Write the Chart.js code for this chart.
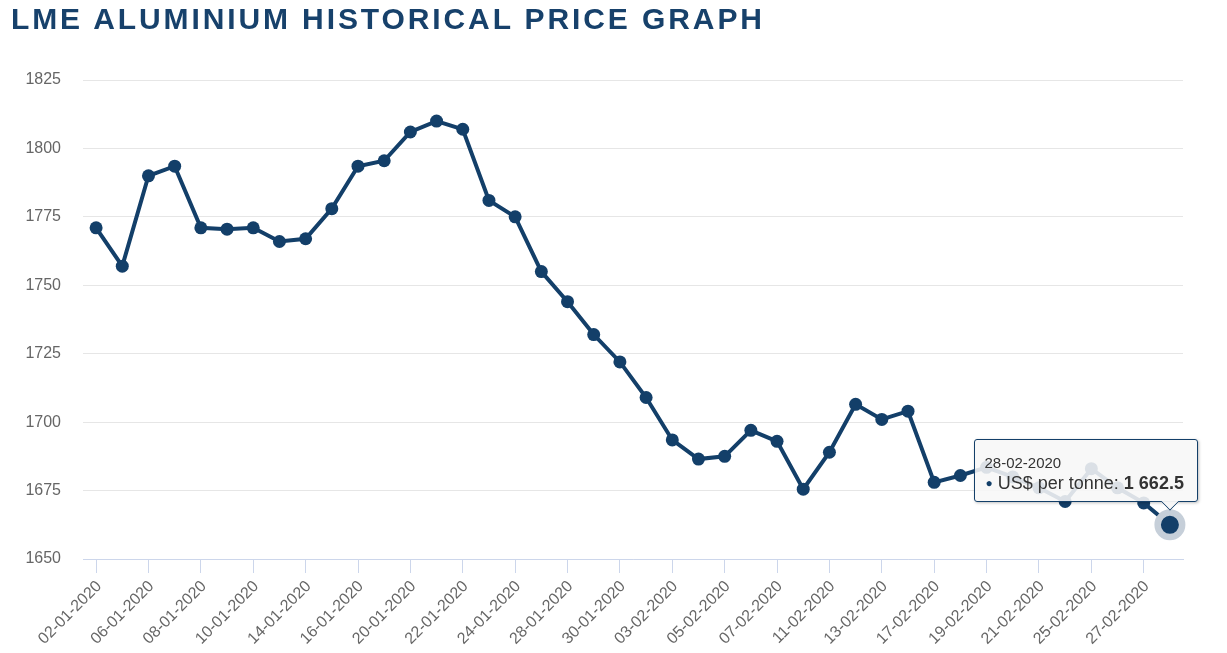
<!DOCTYPE html>
<html>
<head>
<meta charset="utf-8">
<title>LME Aluminium Historical Price Graph</title>
<script src="https://cdn.jsdelivr.net/npm/chart.js@4.4.1/dist/chart.umd.min.js"></script>
<style>
  body { margin: 0; background: #fff; font-family: "Liberation Sans", Arial, sans-serif; }
  #wrap { position: relative; width: 1227px; height: 653px; }
  .title {
    position: absolute; left: 11px; top: 4px; margin: 0;
    font-size: 30px; line-height: 30px; font-weight: bold;
    letter-spacing: 2.9px; color: #17416b; white-space: nowrap;
  }
  #tip {
    display: none; position: absolute; box-sizing: border-box;
    background: rgba(247, 247, 247, 0.88); border: 1px solid #133f69; border-radius: 3px;
    box-shadow: 1px 1px 3px rgba(0, 0, 0, 0.25);
    padding: 13px 13px 6px 9px; color: #333; white-space: nowrap; pointer-events: none;
  }
  #tip::after {
    content: ""; position: absolute; box-sizing: border-box; width: 14px; height: 14px;
    right: 20px; bottom: -7.5px; transform: rotate(45deg);
    background: rgba(247, 247, 247, 0.95);
    border-right: 1px solid #133f69; border-bottom: 1px solid #133f69;
    clip-path: polygon(100% 0, 100% 100%, 0 100%);
  }
  .tip-date { font-size: 15px; line-height: 19px; }
  .tip-body { font-size: 18px; line-height: 23px; }
  .tip-dot { color: #133f69; font-size: 12px; vertical-align: 2px; margin-left: 1px; }
</style>
</head>
<body>
<div id="wrap">
  <h1 class="title">LME ALUMINIUM HISTORICAL PRICE GRAPH</h1>
  <canvas id="priceChart"></canvas>
  <div id="tip">
    <div class="tip-date"></div>
    <div class="tip-body"><span class="tip-dot">●</span> <span class="tip-name"></span>: <b class="tip-val"></b></div>
  </div>
</div>
<script>
// LME trading days, Jan - Feb 2020
const dates = [
  "02-01-2020", "03-01-2020", "06-01-2020", "07-01-2020", "08-01-2020", "09-01-2020",
  "10-01-2020", "13-01-2020", "14-01-2020", "15-01-2020", "16-01-2020", "17-01-2020",
  "20-01-2020", "21-01-2020", "22-01-2020", "23-01-2020", "24-01-2020", "27-01-2020",
  "28-01-2020", "29-01-2020", "30-01-2020", "31-01-2020", "03-02-2020", "04-02-2020",
  "05-02-2020", "06-02-2020", "07-02-2020", "10-02-2020", "11-02-2020", "12-02-2020",
  "13-02-2020", "14-02-2020", "17-02-2020", "18-02-2020", "19-02-2020", "20-02-2020",
  "21-02-2020", "24-02-2020", "25-02-2020", "26-02-2020", "27-02-2020", "28-02-2020"
];

// US$ per tonne
const prices = [
  1771, 1757, 1790, 1793.5, 1771, 1770.5,
  1771, 1766, 1767, 1778, 1793.5, 1795.5,
  1806, 1810, 1807, 1781, 1775, 1755,
  1744, 1732, 1722, 1709, 1693.5, 1686.5,
  1687.5, 1697, 1693, 1675.5, 1689, 1706.5,
  1701, 1704, 1678, 1680.5, 1683.5, 1680,
  1676, 1671, 1683, 1676, 1670.5, 1662.5
];

// labels written under the x axis
const xTickLabels = [
  "02-01-2020", "06-01-2020", "08-01-2020", "10-01-2020", "14-01-2020", "16-01-2020",
  "20-01-2020", "22-01-2020", "24-01-2020", "28-01-2020", "30-01-2020", "03-02-2020",
  "05-02-2020", "07-02-2020", "11-02-2020", "13-02-2020", "17-02-2020", "19-02-2020",
  "21-02-2020", "25-02-2020", "27-02-2020"
];

const yTickValues = [1650, 1675, 1700, 1725, 1750, 1775, 1800, 1825];

const seriesName = "US$ per tonne";
const navy = "#133f69";

Chart.defaults.font.family = "'Liberation Sans', Arial, sans-serif";

function formatPrice(v) {
  const parts = v.toFixed(1).split(".");
  return parts[0].replace(/\B(?=(\d{3})+(?!\d))/g, " ") + "." + parts[1];
}

// html tooltip, callout shape like the original
function externalTip(context) {
  const { chart, tooltip } = context;
  const el = document.getElementById("tip");
  if (tooltip.opacity === 0) {
    el.style.display = "none";
    return;
  }
  const idx = tooltip.dataPoints[0].dataIndex;
  el.querySelector(".tip-date").textContent = dates[idx];
  el.querySelector(".tip-name").textContent = seriesName;
  el.querySelector(".tip-val").textContent = formatPrice(prices[idx]);
  el.style.display = "block";
  el.style.right = (chart.width - tooltip.caretX - 28) + "px";
  el.style.bottom = (chart.height - tooltip.caretY + 23) + "px";
}

const ctx = document.getElementById("priceChart");
const chart = new Chart(ctx, {
  type: "line",
  data: {
    labels: dates,
    datasets: [
      {
        label: seriesName,
        data: prices,
        borderColor: navy,
        backgroundColor: navy,
        borderWidth: 4,
        tension: 0,
        pointRadius: 6.5,
        pointBorderWidth: 0,
        pointBackgroundColor: navy,
        pointHoverRadius: 12.25,
        pointHoverBorderWidth: 6.5,
        pointHoverBorderColor: "#c6cfd9",
        pointHoverBackgroundColor: navy,
      },
    ],
  },
  options: {
    responsive: true,
    maintainAspectRatio: false,
    animation: false,
    events: [],
    layout: { padding: { top: 80, right: 44, bottom: 0, left: 0 } },
    scales: {
      x: {
        type: "category",
        offset: true,
        afterFit: (scale) => { scale.height = 94; },
        grid: {
          drawOnChartArea: false,
          color: "#ccd6eb",
          tickLength: 14,
        },
        border: { color: "#ccd6eb", width: 1 },
        ticks: {
          autoSkip: false,
          minRotation: 45,
          maxRotation: 45,
          padding: 4,
          labelOffset: 3,
          color: "#666",
          font: { size: 16 },
          callback: function (value) {
            const lbl = this.getLabelForValue(value);
            return xTickLabels.includes(lbl) ? lbl : null;
          },
        },
      },
      y: {
        min: 1650,
        max: 1825,
        afterFit: (scale) => { scale.width = 83; },
        afterBuildTicks: (scale) => { scale.ticks = yTickValues.map((v) => ({ value: v })); },
        grid: { color: "#e6e6e6", drawTicks: false },
        border: { display: false },
        ticks: {
          padding: 22,
          color: "#666",
          font: { size: 16 },
          callback: (value) => String(value),
        },
      },
    },
    plugins: {
      legend: { display: false },
      tooltip: {
        enabled: false,
        external: externalTip,
      },
    },
  },
});

// show the last day as hovered, as in the screenshot
const last = [{ datasetIndex: 0, index: prices.length - 1 }];
chart.setActiveElements(last);
chart.tooltip.setActiveElements(last, { x: 0, y: 0 });
chart.update();
</script>
</body>
</html>
